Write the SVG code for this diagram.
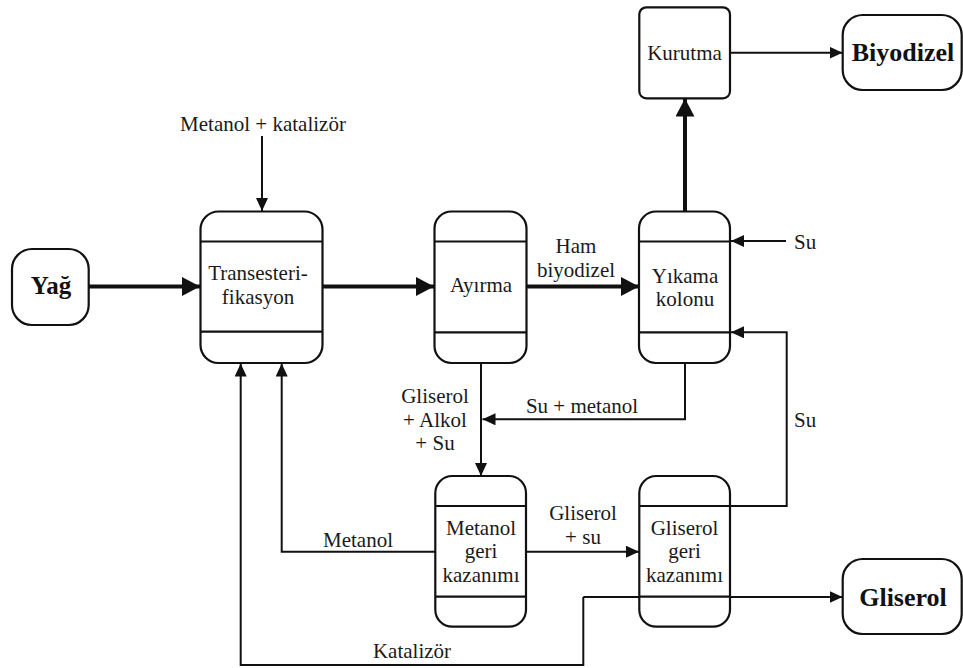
<svg xmlns="http://www.w3.org/2000/svg" width="963" height="668" viewBox="0 0 963 668">
<style>
.box{fill:#fff;stroke:#111;stroke-width:2.2}
.div{stroke:#111;stroke-width:2.2}
text{font-family:'Liberation Serif','DejaVu Serif',serif}
.t{font-size:21px;fill:#1a1a1a;text-anchor:middle}
.b{font-size:26px;font-weight:bold;fill:#111;text-anchor:middle}
.thin{fill:none;stroke:#111;stroke-width:2}
.thick{fill:none;stroke:#111;stroke-width:4}
</style>
<defs>
<marker id="at" markerUnits="userSpaceOnUse" markerWidth="13" markerHeight="12" refX="13" refY="6" orient="auto"><path d="M0,0 L13,6 L0,12 z" fill="#111"/></marker>
<marker id="ak" markerUnits="userSpaceOnUse" markerWidth="18" markerHeight="19" refX="18" refY="9.5" orient="auto"><path d="M0,0 L18,9.5 L0,19 z" fill="#111"/></marker>
</defs>
<rect width="963" height="668" fill="#fff"/>
<g id="connectors">
<path class="thick" d="M88.7,286.5 L200,286.5" marker-end="url(#ak)"/>
<path class="thick" d="M322.7,286.5 L434,286.5" marker-end="url(#ak)"/>
<path class="thick" d="M526.6,286.5 L639,286.5" marker-end="url(#ak)"/>
<path class="thick" d="M685,211.7 L685,98.5" marker-end="url(#ak)"/>
<path class="thin" d="M730,52.7 L842.5,52.7" marker-end="url(#at)"/>
<path class="thin" d="M262,136 L262,211" marker-end="url(#at)"/>
<path class="thin" d="M786,241 L731,241" marker-end="url(#at)"/>
<path class="thin" d="M730,506 L786.7,506 L786.7,332.3 L731,332.3" marker-end="url(#at)"/>
<path class="thin" d="M685,363 L685,419.3 L482.5,419.3" marker-end="url(#at)"/>
<path class="thin" d="M481,363 L481,476" marker-end="url(#at)"/>
<path class="thin" d="M435.3,551.7 L281.7,551.7 L281.7,363.5" marker-end="url(#at)"/>
<path class="thin" d="M526,551.7 L639,551.7" marker-end="url(#at)"/>
<path class="thin" d="M583.3,597 L842.5,597" marker-end="url(#at)"/>
<path class="thin" d="M583.3,597 L583.3,665 L240.7,665 L240.7,363.5" marker-end="url(#at)"/>
</g>
<g id="yag">
<rect class="box" x="12" y="249" width="76.7" height="76" rx="20"/>
<text class="b" x="51" y="294" font-family="Liberation Serif, serif" style="font-size:25px">Yağ</text>
</g>
<g id="transesterifikasyon">
<rect class="box" x="200.5" y="211.5" width="122" height="151.5" rx="18"/>
<line class="div" x1="200.5" y1="241.5" x2="322.5" y2="241.5"/>
<line class="div" x1="200.5" y1="331.7" x2="322.5" y2="331.7"/>
<text class="t" x="258" y="280">Transesteri-</text>
<text class="t" x="258" y="304">fikasyon</text>
</g>
<g id="ayirma">
<rect class="box" x="434.5" y="211.5" width="92" height="151.5" rx="17"/>
<line class="div" x1="434.5" y1="241.5" x2="526.5" y2="241.5"/>
<line class="div" x1="434.5" y1="332.3" x2="526.5" y2="332.3"/>
<text class="t" x="481" y="292">Ayırma</text>
</g>
<g id="yikama">
<rect class="box" x="639" y="211.5" width="91" height="151.5" rx="17"/>
<line class="div" x1="639" y1="241.5" x2="730" y2="241.5"/>
<line class="div" x1="639" y1="332.3" x2="730" y2="332.3"/>
<text class="t" x="685" y="283">Yıkama</text>
<text class="t" x="685" y="306">kolonu</text>
</g>
<g id="kurutma">
<rect class="box" x="639.3" y="7.3" width="90.7" height="91" rx="7"/>
<text class="t" x="684.5" y="60">Kurutma</text>
</g>
<g id="biyodizel">
<rect class="box" x="842.7" y="15" width="119" height="75" rx="20"/>
<text class="b" x="903" y="61">Biyodizel</text>
</g>
<g id="metanol-geri">
<rect class="box" x="435.3" y="476" width="90.7" height="150.7" rx="17"/>
<line class="div" x1="435.3" y1="506" x2="526" y2="506"/>
<line class="div" x1="435.3" y1="596.7" x2="526" y2="596.7"/>
<text class="t" x="481" y="535">Metanol</text>
<text class="t" x="481" y="558">geri</text>
<text class="t" x="481" y="582">kazanımı</text>
</g>
<g id="gliserol-geri">
<rect class="box" x="639.3" y="476" width="90.7" height="150.7" rx="17"/>
<line class="div" x1="639.3" y1="506" x2="730" y2="506"/>
<line class="div" x1="639.3" y1="596.7" x2="730" y2="596.7"/>
<text class="t" x="684.5" y="535">Gliserol</text>
<text class="t" x="684.5" y="558">geri</text>
<text class="t" x="684.5" y="582">kazanımı</text>
</g>
<g id="gliserol">
<rect class="box" x="842.7" y="559" width="119" height="75" rx="20"/>
<text class="b" x="903" y="606">Gliserol</text>
</g>
<g id="labels">
<text class="t" x="263" y="131">Metanol + katalizör</text>
<text class="t" x="576" y="253">Ham</text>
<text class="t" x="576" y="277">biyodizel</text>
<text class="t" x="794" y="249" style="text-anchor:start">Su</text>
<text class="t" x="794" y="427" style="text-anchor:start">Su</text>
<text class="t" x="582" y="413">Su + metanol</text>
<text class="t" x="435" y="403">Gliserol</text>
<text class="t" x="435" y="427">+ Alkol</text>
<text class="t" x="435" y="450">+ Su</text>
<text class="t" x="358" y="547">Metanol</text>
<text class="t" x="583" y="520">Gliserol</text>
<text class="t" x="583" y="544">+ su</text>
<text class="t" x="412" y="658">Katalizör</text>
</g>
</svg>
